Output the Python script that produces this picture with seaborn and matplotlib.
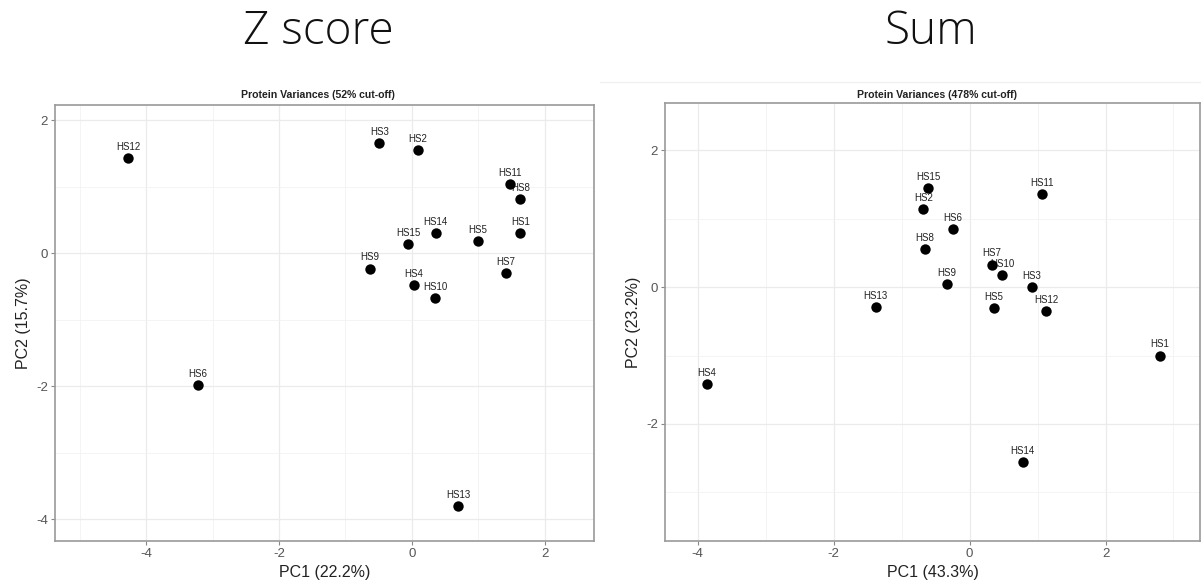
import matplotlib
matplotlib.use("Agg")
import matplotlib.pyplot as plt
import seaborn as sns
import pandas as pd
from matplotlib.ticker import MultipleLocator
from matplotlib.lines import Line2D

# ---- data ----
sample_labels = ["HS1", "HS2", "HS3", "HS4", "HS5", "HS6", "HS7", "HS8",
                 "HS9", "HS10", "HS11", "HS12", "HS13", "HS14", "HS15"]

z_pc1 = [1.63, 0.09, -0.49, 0.03, 0.99, -3.22, 1.41, 1.63,
         -0.63, 0.35, 1.47, -4.27, 0.70, 0.36, -0.06]
z_pc2 = [0.30, 1.55, 1.66, -0.48, 0.18, -1.98, -0.30, 0.82,
         -0.23, -0.67, 1.04, 1.43, -3.81, 0.30, 0.14]

sum_pc1 = [2.80, -0.68, 0.92, -3.86, 0.36, -0.24, 0.33, -0.66,
           -0.33, 0.48, 1.07, 1.13, -1.38, 0.78, -0.61]
sum_pc2 = [-1.00, 1.14, 0.00, -1.42, -0.31, 0.85, 0.33, 0.55,
           0.04, 0.18, 1.36, -0.35, -0.29, -2.55, 1.45]

big_titles = ["Z score", "Sum"]
panel_titles = ["Protein Variances (52% cut-off)", "Protein Variances (478% cut-off)"]
x_labels = ["PC1 (22.2%)", "PC1 (43.3%)"]
y_labels = ["PC2 (15.7%)", "PC2 (23.2%)"]

sns.set_theme(style="white")
plt.rcParams['font.family'] = ['Liberation Sans', 'DejaVu Sans']
plt.rcParams['axes.unicode_minus'] = False

W, H = 1201, 584
fig = plt.figure(figsize=(W / 100, H / 100), dpi=100)
fig.patch.set_facecolor("white")


def px_axes(l, t, r, b):
    return fig.add_axes([l / W, 1 - b / H, (r - l) / W, (b - t) / H])


ax_left = px_axes(55, 105, 594, 541)
ax_right = px_axes(665, 103, 1200, 541)

df_z = pd.DataFrame({"PC1": z_pc1, "PC2": z_pc2, "label": sample_labels})
df_s = pd.DataFrame({"PC1": sum_pc1, "PC2": sum_pc2, "label": sample_labels})

panels = [
    (ax_left, df_z, (-5.37, 2.74), (-4.33, 2.23)),
    (ax_right, df_s, (-4.48, 3.39), (-3.71, 2.69)),
]

for i, (ax, df, xl, yl) in enumerate(panels):
    ax.set_facecolor("white")
    ax.set_axisbelow(True)
    for _, row in df.iterrows():
        ax.annotate(row["label"], (row["PC1"], row["PC2"]), xytext=(0, 8),
                    textcoords="offset points", ha="center", va="center",
                    fontsize=7, color="#222222", zorder=2)
    sns.scatterplot(data=df, x="PC1", y="PC2", ax=ax, color="black", s=56,
                    edgecolor="black", linewidth=0, zorder=3, legend=False)
    ax.set_xlim(*xl)
    ax.set_ylim(*yl)
    ax.xaxis.set_major_locator(MultipleLocator(2))
    ax.yaxis.set_major_locator(MultipleLocator(2))
    ax.xaxis.set_minor_locator(MultipleLocator(1))
    ax.yaxis.set_minor_locator(MultipleLocator(1))
    ax.grid(which="major", color="#ebebeb", linewidth=0.9)
    ax.grid(which="minor", color="#f2f2f2", linewidth=0.6)
    ax.tick_params(which="major", length=3, width=0.8, color="#888888",
                   labelcolor="#555555", labelsize=9.5, pad=2,
                   bottom=True, left=True)
    ax.tick_params(which="minor", length=0)
    for sp in ax.spines.values():
        sp.set_color("#9a9a9a")
        sp.set_linewidth(1.2)
    ax.set_xlabel(x_labels[i], fontsize=11.5, color="#222222", labelpad=4)
    ax.set_ylabel(y_labels[i], fontsize=11.5, color="#222222", labelpad=4)

# panel titles
fig.text(318 / W, 1 - 95 / H, panel_titles[0], ha="center", va="center",
         fontsize=7.6, fontweight="bold", color="#222222")
fig.text(937 / W, 1 - 95 / H, panel_titles[1], ha="center", va="center",
         fontsize=7.6, fontweight="bold", color="#222222")

# big titles
fig.text(318 / W, 1 - 32 / H, big_titles[0], ha="center", va="center",
         fontsize=33, color="#111111", family=["Open Sans", "DejaVu Sans"],
         fontweight="light")
fig.text(931 / W, 1 - 32 / H, big_titles[1], ha="center", va="center",
         fontsize=33, color="#111111", family=["Open Sans", "DejaVu Sans"],
         fontweight="light")

# faint border line of the right image
fig.add_artist(Line2D([600 / W, 1.0], [1 - 82 / H, 1 - 82 / H],
                      transform=fig.transFigure, color="#f0f0f0", linewidth=1))

fig.savefig("out.png", dpi=100, facecolor="white")
